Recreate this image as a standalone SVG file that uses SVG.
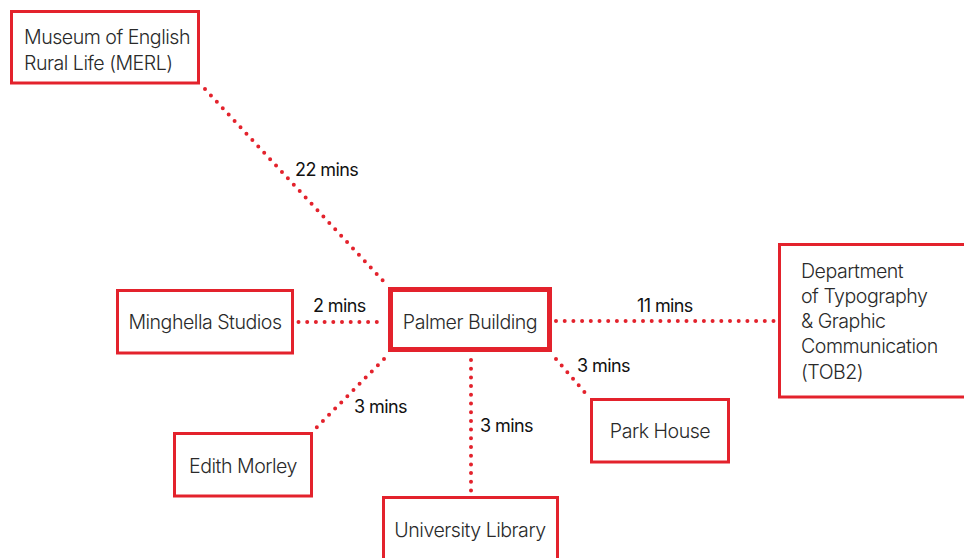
<svg xmlns="http://www.w3.org/2000/svg" width="964" height="558" viewBox="0 0 964 558">
<style>
.box{fill:#fff;stroke:#e3222c;stroke-width:3}
.main{fill:#fff;stroke:#e3222c;stroke-width:5}
.t{font-family:Inter,"Liberation Sans",sans-serif;font-weight:300;font-size:19.6px;fill:#2a2a2a;letter-spacing:-0.5px}
.c{text-anchor:middle}
.lbl{font-family:Inter,"Liberation Sans",sans-serif;font-weight:400;font-size:18px;fill:#111;letter-spacing:-0.6px}
.dot{fill:none;stroke:#e3222c;stroke-width:4;stroke-linecap:round;stroke-dasharray:0 8.7}
</style>
<rect width="964" height="558" fill="#fff"/>
<g id="connectors">
<line class="dot" x1="205" y1="89" x2="387" y2="285"/>
<line class="dot" x1="298.5" y1="322" x2="384" y2="322"/>
<line class="dot" x1="556" y1="321" x2="775" y2="321"/>
<line class="dot" x1="384" y1="359" x2="316" y2="428"/>
<line class="dot" x1="471" y1="360" x2="471" y2="493"/>
<line class="dot" x1="556" y1="359" x2="587" y2="395"/>
<text class="lbl" x="295" y="176">22 mins</text>
<text class="lbl" x="313" y="312">2 mins</text>
<text class="lbl" x="637" y="312">11 mins</text>
<text class="lbl" x="577" y="372">3 mins</text>
<text class="lbl" x="354" y="413">3 mins</text>
<text class="lbl" x="480" y="432">3 mins</text>
</g>
<g id="merl">
<rect class="box" x="11.5" y="11.5" width="187" height="71.5"/>
<text class="t" x="24" y="44">Museum of English</text>
<text class="t" x="24" y="70">Rural Life (MERL)</text>
</g>
<g id="minghella">
<rect class="box" x="117.5" y="290.5" width="175" height="62.5"/>
<text class="t c" x="205" y="329">Minghella Studios</text>
</g>
<g id="palmer">
<rect class="main" x="390.5" y="289.5" width="159" height="60"/>
<text class="t c" x="470" y="329">Palmer Building</text>
</g>
<g id="tob2">
<rect class="box" x="779.5" y="244.5" width="200" height="152.5"/>
<text class="t" x="801" y="278">Department</text>
<text class="t" x="801" y="303">of Typography</text>
<text class="t" x="801" y="328">&amp; Graphic</text>
<text class="t" x="801" y="353">Communication</text>
<text class="t" x="801" y="379">(TOB2)</text>
</g>
<g id="park">
<rect class="box" x="591.5" y="399.5" width="137" height="62.5"/>
<text class="t c" x="660" y="438">Park House</text>
</g>
<g id="edith">
<rect class="box" x="174.5" y="433.5" width="137" height="62.5"/>
<text class="t c" x="243" y="473">Edith Morley</text>
</g>
<g id="library">
<rect class="box" x="383.5" y="497.5" width="174" height="80"/>
<text class="t c" x="470" y="537">University Library</text>
</g>
</svg>
